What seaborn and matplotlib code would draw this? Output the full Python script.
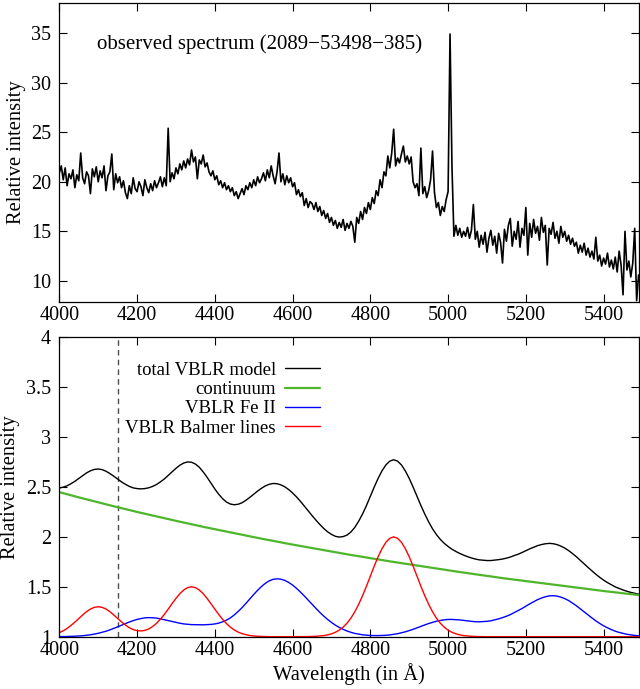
import numpy as np
import matplotlib
matplotlib.use('Agg')
import matplotlib.pyplot as plt
from matplotlib.ticker import StrMethodFormatter
import seaborn as sns

# observed spectrum, every 5 A (4000 ... 5490)
obs_wl = np.arange(4000, 5491, 5)
obs_flux = [
    20.9, 21.6, 20.2, 21.4, 19.6, 20.8, 20.3, 21.2, 19.4, 20.7,
    20.1, 22.9, 20.4, 19.8, 21.0, 20.6, 18.8, 21.3, 20.5, 21.5,
    20.0, 21.1, 20.4, 21.6, 19.1, 20.6, 21.0, 22.8, 19.2, 20.8,
    19.9, 20.5, 19.4, 20.1, 18.9, 18.3, 19.6, 18.8, 20.4, 19.3,
    19.0, 20.0, 19.5, 18.6, 20.2, 19.4, 18.9, 19.8, 19.1, 20.1,
    19.4, 19.9, 20.5, 19.5, 20.4, 19.6, 25.4, 20.0, 20.9, 20.3,
    21.4, 20.8, 21.8, 21.2, 22.1, 21.4, 22.3, 21.7, 23.2, 22.0,
    22.5, 20.3, 22.2, 21.8, 22.7, 21.5, 21.9, 21.0, 20.6, 21.1,
    20.2, 20.6, 19.7, 20.1, 19.4, 19.9, 19.2, 19.6, 19.0, 19.4,
    18.6, 19.0, 18.3, 18.8, 19.3, 18.7, 19.6, 19.2, 19.9, 19.4,
    20.2, 19.6, 20.5, 19.9, 20.3, 20.9, 20.1, 21.2, 20.4, 21.6,
    20.6, 19.8, 21.0, 22.9, 20.0, 20.8, 19.7, 20.6, 19.9, 20.4,
    19.5, 19.9, 18.7, 19.2, 18.5, 18.9, 17.6, 18.3, 17.4, 18.0,
    17.8, 17.2, 17.9, 17.0, 17.5, 16.6, 17.1, 16.3, 16.8, 15.9,
    16.4, 15.6, 16.1, 15.3, 15.9, 15.4, 16.2, 15.1, 15.8, 15.3,
    16.0, 15.5, 13.9, 16.4, 15.8, 17.0, 16.2, 17.4, 16.8, 17.9,
    17.2, 18.4, 17.8, 19.1, 18.6, 20.2, 19.4, 21.0, 20.6, 22.6,
    21.4, 22.9, 25.3, 21.6, 22.4, 21.9, 22.8, 23.6, 22.0, 22.6,
    21.8, 22.5, 20.0, 19.4, 19.8, 18.6, 23.4, 18.8, 19.5, 18.4,
    19.1, 20.2, 23.1, 18.9, 17.4, 17.9, 16.6, 17.5, 17.0, 18.2,
    19.0, 34.9, 21.5, 14.5, 15.6, 14.6, 15.3, 14.4, 15.0, 14.5,
    15.4, 14.3, 15.1, 17.7, 14.2, 15.0, 13.4, 14.6, 13.7, 14.9,
    12.9, 14.3, 15.1, 13.6, 14.5, 12.8, 14.8, 13.9, 11.8, 15.2,
    14.0, 15.6, 16.3, 13.5, 15.0, 14.2, 16.0, 13.4, 15.3, 14.6,
    17.4, 12.6, 15.8, 14.4, 16.2, 14.8, 15.5, 14.1, 16.4, 14.9,
    15.6, 11.6, 15.3, 14.7, 15.9, 14.3, 15.0, 13.8, 15.5, 14.4,
    15.0, 14.0, 14.6, 13.7, 14.3, 13.5, 13.9, 12.8, 13.6, 12.9,
    13.8, 12.6, 13.3, 12.4, 13.0, 12.2, 14.4, 12.0, 12.6, 11.5,
    12.3, 11.7, 12.8, 11.4, 12.1, 11.2, 12.4, 10.9, 13.0, 11.6,
    8.6, 15.0, 11.1, 12.0, 10.4, 11.8, 15.3, 8.0, 10.6,
]

# VBLR model components, every 10 A (4000 ... 5490)
mod_wl = np.arange(4000, 5491, 10)
total_model = [
    2.490, 2.498, 2.512, 2.533, 2.557, 2.585, 2.614, 2.641, 2.662, 2.676,
    2.680, 2.674, 2.658, 2.635, 2.608, 2.579, 2.551, 2.527, 2.506, 2.491,
    2.484, 2.481, 2.484, 2.492, 2.506, 2.525, 2.551, 2.580, 2.616, 2.653,
    2.687, 2.718, 2.740, 2.751, 2.748, 2.730, 2.698, 2.651, 2.598, 2.538,
    2.480, 2.427, 2.383, 2.349, 2.329, 2.322, 2.327, 2.342, 2.367, 2.396,
    2.427, 2.459, 2.487, 2.511, 2.527, 2.535, 2.533, 2.521, 2.502, 2.474,
    2.440, 2.401, 2.357, 2.310, 2.262, 2.214, 2.168, 2.125, 2.085, 2.051,
    2.025, 2.006, 1.998, 2.003, 2.018, 2.049, 2.095, 2.157, 2.230, 2.314,
    2.406, 2.499, 2.586, 2.662, 2.721, 2.759, 2.773, 2.759, 2.721, 2.661,
    2.586, 2.499, 2.408, 2.315, 2.229, 2.151, 2.081, 2.023, 1.975, 1.936,
    1.904, 1.876, 1.854, 1.834, 1.817, 1.802, 1.789, 1.778, 1.770, 1.766,
    1.763, 1.763, 1.767, 1.772, 1.778, 1.787, 1.798, 1.813, 1.826, 1.843,
    1.862, 1.880, 1.896, 1.912, 1.923, 1.931, 1.935, 1.932, 1.923, 1.908,
    1.888, 1.863, 1.833, 1.801, 1.766, 1.730, 1.694, 1.660, 1.626, 1.595,
    1.567, 1.542, 1.520, 1.499, 1.483, 1.468, 1.455, 1.444, 1.435, 1.426,
]
continuum = [
    2.448, 2.438, 2.427, 2.417, 2.406, 2.396, 2.386, 2.376, 2.366, 2.356,
    2.346, 2.336, 2.326, 2.316, 2.307, 2.297, 2.288, 2.278, 2.269, 2.259,
    2.250, 2.241, 2.232, 2.223, 2.214, 2.205, 2.196, 2.187, 2.179, 2.170,
    2.161, 2.152, 2.144, 2.135, 2.127, 2.118, 2.110, 2.101, 2.093, 2.084,
    2.076, 2.068, 2.060, 2.052, 2.044, 2.036, 2.028, 2.020, 2.013, 2.005,
    1.997, 1.990, 1.982, 1.975, 1.967, 1.960, 1.953, 1.945, 1.938, 1.930,
    1.923, 1.916, 1.909, 1.901, 1.894, 1.887, 1.880, 1.874, 1.867, 1.860,
    1.853, 1.846, 1.839, 1.833, 1.826, 1.819, 1.813, 1.806, 1.800, 1.793,
    1.787, 1.781, 1.774, 1.768, 1.761, 1.755, 1.749, 1.743, 1.736, 1.730,
    1.724, 1.718, 1.712, 1.706, 1.700, 1.694, 1.688, 1.682, 1.677, 1.671,
    1.665, 1.659, 1.654, 1.648, 1.643, 1.637, 1.631, 1.626, 1.620, 1.615,
    1.609, 1.604, 1.598, 1.593, 1.587, 1.582, 1.577, 1.572, 1.566, 1.561,
    1.556, 1.551, 1.546, 1.541, 1.536, 1.531, 1.526, 1.521, 1.516, 1.511,
    1.506, 1.501, 1.496, 1.491, 1.486, 1.481, 1.476, 1.472, 1.467, 1.462,
    1.458, 1.453, 1.449, 1.444, 1.440, 1.435, 1.431, 1.426, 1.422, 1.417,
]
fe2 = [
    1.001, 1.001, 1.002, 1.003, 1.005, 1.007, 1.010, 1.014, 1.019, 1.026,
    1.034, 1.044, 1.055, 1.068, 1.083, 1.099, 1.115, 1.132, 1.147, 1.161,
    1.173, 1.182, 1.189, 1.191, 1.190, 1.186, 1.179, 1.170, 1.161, 1.152,
    1.142, 1.135, 1.128, 1.124, 1.121, 1.120, 1.120, 1.119, 1.121, 1.123,
    1.128, 1.136, 1.149, 1.166, 1.189, 1.218, 1.253, 1.291, 1.334, 1.379,
    1.423, 1.465, 1.503, 1.535, 1.560, 1.575, 1.580, 1.576, 1.564, 1.544,
    1.517, 1.485, 1.448, 1.409, 1.367, 1.325, 1.284, 1.244, 1.207, 1.173,
    1.143, 1.116, 1.093, 1.074, 1.057, 1.044, 1.033, 1.026, 1.019, 1.015,
    1.012, 1.011, 1.011, 1.012, 1.014, 1.018, 1.024, 1.030, 1.039, 1.049,
    1.061, 1.074, 1.089, 1.103, 1.118, 1.132, 1.144, 1.155, 1.163, 1.169,
    1.173, 1.173, 1.171, 1.168, 1.163, 1.158, 1.154, 1.150, 1.149, 1.151,
    1.154, 1.159, 1.169, 1.179, 1.191, 1.205, 1.221, 1.241, 1.260, 1.282,
    1.306, 1.329, 1.350, 1.371, 1.387, 1.400, 1.409, 1.411, 1.407, 1.397,
    1.382, 1.362, 1.337, 1.310, 1.280, 1.249, 1.218, 1.188, 1.159, 1.133,
    1.109, 1.089, 1.071, 1.055, 1.043, 1.033, 1.024, 1.018, 1.013, 1.009,
]
balmer = [
    1.041, 1.059, 1.083, 1.113, 1.146, 1.182, 1.218, 1.251, 1.277, 1.294,
    1.300, 1.294, 1.277, 1.251, 1.218, 1.183, 1.148, 1.117, 1.090, 1.071,
    1.061, 1.058, 1.063, 1.078, 1.102, 1.134, 1.176, 1.223, 1.276, 1.331,
    1.384, 1.431, 1.468, 1.492, 1.500, 1.492, 1.468, 1.431, 1.384, 1.331,
    1.276, 1.223, 1.174, 1.131, 1.096, 1.068, 1.046, 1.031, 1.020, 1.012,
    1.007, 1.004, 1.002, 1.001, 1.000, 1.000, 1.000, 1.000, 1.000, 1.000,
    1.000, 1.000, 1.000, 1.000, 1.001, 1.002, 1.004, 1.007, 1.011, 1.018,
    1.029, 1.044, 1.066, 1.096, 1.135, 1.186, 1.249, 1.325, 1.411, 1.506,
    1.607, 1.707, 1.801, 1.882, 1.946, 1.986, 2.000, 1.986, 1.946, 1.882,
    1.801, 1.707, 1.607, 1.506, 1.411, 1.325, 1.249, 1.186, 1.135, 1.096,
    1.066, 1.044, 1.029, 1.018, 1.011, 1.007, 1.004, 1.002, 1.001, 1.000,
    1.000, 1.000, 1.000, 1.000, 1.000, 1.000, 1.000, 1.000, 1.000, 1.000,
    1.000, 1.000, 1.000, 1.000, 1.000, 1.000, 1.000, 1.000, 1.000, 1.000,
    1.000, 1.000, 1.000, 1.000, 1.000, 1.000, 1.000, 1.000, 1.000, 1.000,
    1.000, 1.000, 1.000, 1.000, 1.000, 1.000, 1.000, 1.000, 1.000, 1.000,
]
series_labels = ['total VBLR model', 'continuum', 'VBLR Fe II', 'VBLR Balmer lines']
series_colors = ['black', '#4db62a', '#0000ff', '#ff0000']
obs_label = 'observed spectrum (2089\u221253498\u2212385)'
cut_wl = 4150

sns.set_style('ticks', {'axes.edgecolor': 'black', 'xtick.color': 'black',
                        'ytick.color': 'black', 'text.color': 'black',
                        'axes.labelcolor': 'black'})
plt.rcParams['font.family'] = ['Liberation Serif', 'DejaVu Serif']

fig = plt.figure(figsize=(6.4, 6.89), dpi=100)
ax1 = fig.add_axes([0.0927, 0.5621, 0.9063, 0.4331])
ax2 = fig.add_axes([0.0927, 0.0759, 0.9063, 0.4346])

# top: observed spectrum
sns.lineplot(x=obs_wl, y=obs_flux, ax=ax1, color='black', lw=1.2,
             estimator=None, sort=False)
ax1.text(4098, 33.9, obs_label, fontsize=15, va='center', ha='left')
ax1.set_xlim(4000, 5492)
ax1.set_ylim(7.9, 38.0)
ax1.set_yticks([10, 15, 20, 25, 30, 35])
ax1.set_ylabel('Relative intensity', fontsize=14.8)
ax1.yaxis.set_label_coords(-0.057, 0.5)

# bottom: VBLR model
for vals, lab, col in zip([total_model, continuum, fe2, balmer], series_labels, series_colors):
    sns.lineplot(x=mod_wl, y=vals, ax=ax2, color=col,
                 lw=1.6 if lab == 'continuum' else 1.0,
                 estimator=None, sort=False, label=lab)
ax2.axvline(cut_wl, color='0.3', lw=1.0, ls=(0, (4, 3)), zorder=0)
ax2.set_xlim(4000, 5492)
ax2.set_ylim(1, 4)
ax2.set_yticks([1, 1.5, 2, 2.5, 3, 3.5, 4])
ax2.yaxis.set_major_formatter(StrMethodFormatter('{x:g}'))
ax2.set_ylabel('Relative intensity', fontsize=14.8)
ax2.yaxis.set_label_coords(-0.067, 0.5)
ax2.set_xlabel('Wavelength (in \u00c5)', fontsize=14.8, labelpad=2)
ax2.legend(loc='upper right', bbox_to_anchor=(0.4495, 0.918), frameon=False,
           markerfirst=False, fontsize=13.5, handlelength=1.85,
           handletextpad=0.5, labelspacing=0.11, borderpad=0, borderaxespad=0)

for ax in (ax1, ax2):
    ax.set_xticks(range(4000, 5401, 200))
    ax.tick_params(direction='in', top=True, right=True, length=6, width=0.8,
                   labelsize=14.5)
    ax.tick_params(axis='y', pad=6)
    ax.tick_params(axis='x', pad=3)
    for s in ax.spines.values():
        s.set_linewidth(0.9)

fig.savefig('out.png', dpi=100)
